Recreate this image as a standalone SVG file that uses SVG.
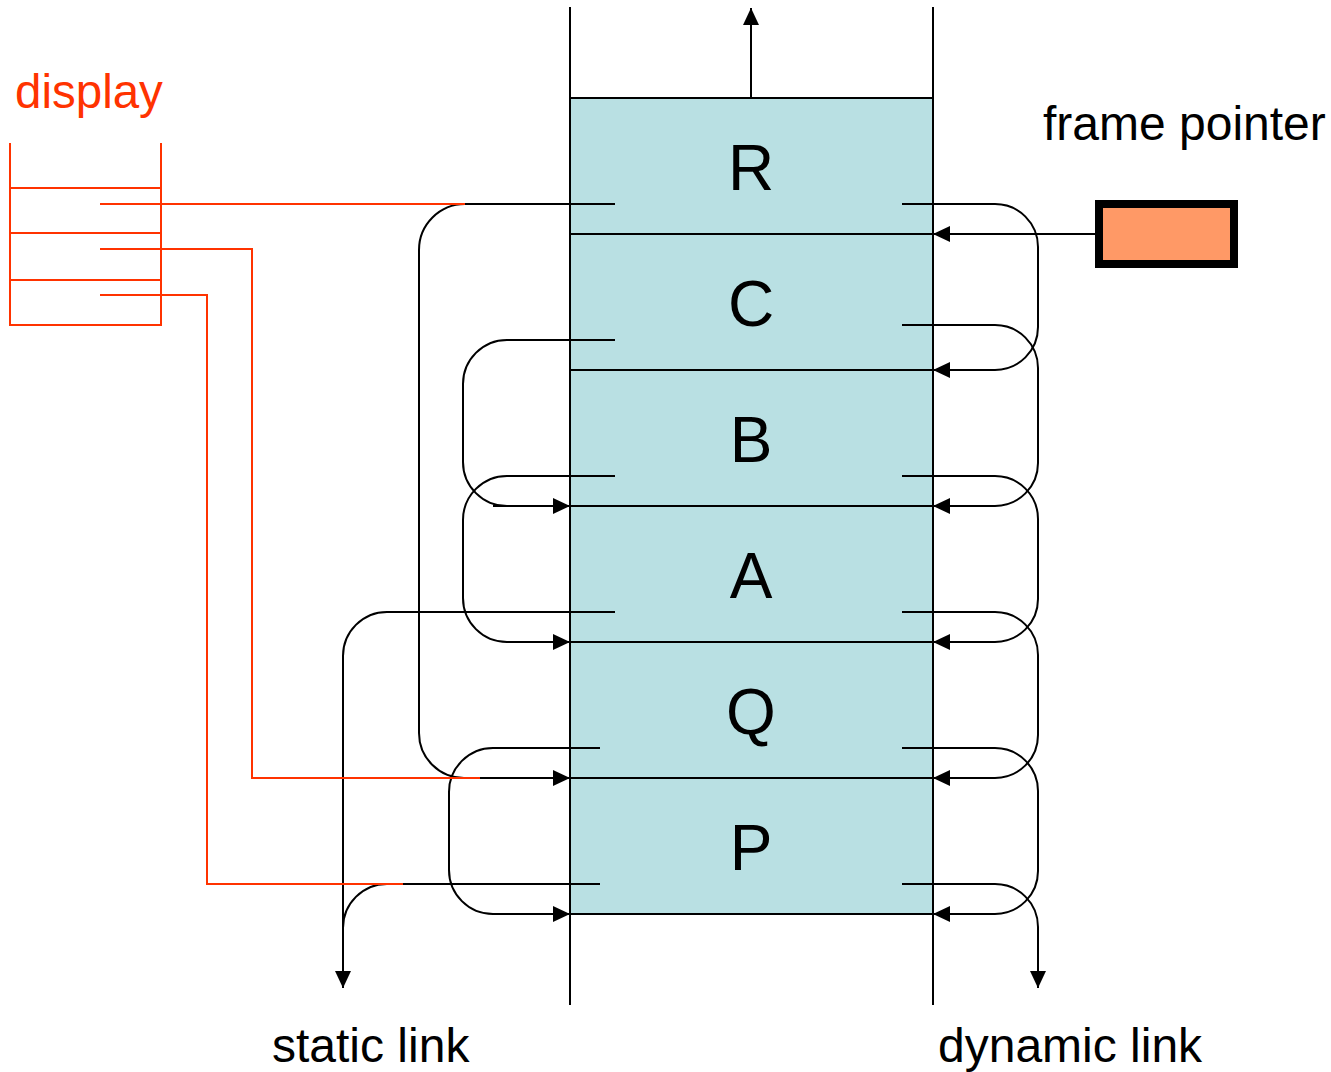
<svg xmlns="http://www.w3.org/2000/svg" width="1331" height="1072" viewBox="0 0 1331 1072">
  <style>
    .ln { fill: none; stroke: #000; stroke-width: 2; }
    .red { fill: none; stroke: #FF3300; stroke-width: 2; }
    .frame { fill: #B9E0E3; stroke: none; }
    .sep { stroke: #000; stroke-width: 2; }
    .letter { font-family: "Liberation Sans", Arial, sans-serif; font-size: 64px; fill: #000; text-anchor: middle; }
    .label { font-family: "Liberation Sans", Arial, sans-serif; font-size: 48px; fill: #000; }
    .dlabel { font-family: "Liberation Sans", Arial, sans-serif; font-size: 47.5px; fill: #FF3300; }
  </style>
  <defs>
    <marker id="arrow" markerUnits="userSpaceOnUse" markerWidth="18" markerHeight="16" viewBox="0 0 18 16" refX="17" refY="8" orient="auto">
      <path d="M0,0 L17,8 L0,16 Z" fill="#000"/>
    </marker>
  </defs>

  <rect width="1331" height="1072" fill="#fff"/>

  <!-- activation record frames -->
  <g id="frame-R"><rect class="frame" x="570" y="98" width="363" height="136"/><text class="letter" x="751" y="190">R</text></g>
  <g id="frame-C"><rect class="frame" x="570" y="234" width="363" height="136"/><text class="letter" x="751" y="326">C</text></g>
  <g id="frame-B"><rect class="frame" x="570" y="370" width="363" height="136"/><text class="letter" x="751" y="462">B</text></g>
  <g id="frame-A"><rect class="frame" x="570" y="506" width="363" height="136"/><text class="letter" x="751" y="598">A</text></g>
  <g id="frame-Q"><rect class="frame" x="570" y="642" width="363" height="136"/><text class="letter" x="751" y="734">Q</text></g>
  <g id="frame-P"><rect class="frame" x="570" y="778" width="363" height="136"/><text class="letter" x="751" y="870">P</text></g>

  <!-- stack walls and frame boundaries -->
  <g id="stack">
    <line class="sep" x1="570" y1="7" x2="570" y2="1005"/>
    <line class="sep" x1="933" y1="7" x2="933" y2="1005"/>
    <line class="sep" x1="570" y1="98" x2="933" y2="98"/>
    <line class="sep" x1="570" y1="234" x2="933" y2="234"/>
    <line class="sep" x1="570" y1="370" x2="933" y2="370"/>
    <line class="sep" x1="570" y1="506" x2="933" y2="506"/>
    <line class="sep" x1="570" y1="642" x2="933" y2="642"/>
    <line class="sep" x1="570" y1="778" x2="933" y2="778"/>
    <line class="sep" x1="570" y1="914" x2="933" y2="914"/>
  </g>

  <!-- frame pointer register -->
  <g id="frame-pointer">
    <rect x="1099" y="204" width="135" height="60" fill="#FF9966" stroke="#000" stroke-width="8"/>
    <text class="label" x="1043" y="140">frame pointer</text>
  </g>

  <!-- display table -->
  <g id="display">
    <path class="red" d="M10,143 V325 H161 V143 M10,188 H161 M10,233 H161 M10,280 H161"/>
    <text class="dlabel" x="15" y="108">display</text>
  </g>

  <g id="labels">
    <text class="label" x="272" y="1062">static link</text>
    <text class="label" x="938" y="1062">dynamic link</text>
  </g>

  <g id="connectors">
    <!-- stack growth -->
    <path class="ln" d="M751,98 V8" marker-end="url(#arrow)"/>
    <!-- frame pointer -->
    <path class="ln" d="M1095,234 H933" marker-end="url(#arrow)"/>

    <!-- static links -->
    <path class="ln" d="M615,204 H465 A46,46 0 0 0 419,250 V733 A45,45 0 0 0 464,778 H570" marker-end="url(#arrow)"/>
    <path class="ln" d="M615,340 H507 A44,44 0 0 0 463,384 V462 A44,44 0 0 0 507,506 M493,506 H570" marker-end="url(#arrow)"/>
    <path class="ln" d="M615,476 H507 A44,44 0 0 0 463,520 V598 A44,44 0 0 0 507,642 H570" marker-end="url(#arrow)"/>
    <path class="ln" d="M615,612 H387 A44,44 0 0 0 343,656 V988" marker-end="url(#arrow)"/>
    <path class="ln" d="M600,748 H493 A44,44 0 0 0 449,792 V870 A44,44 0 0 0 493,914 H570" marker-end="url(#arrow)"/>
    <path class="ln" d="M600,884 H387 A44,44 0 0 0 343,928"/>

    <!-- dynamic links -->
    <path class="ln" d="M902,204 H995 A43,43 0 0 1 1038,247 V327 A43,43 0 0 1 995,370 H933" marker-end="url(#arrow)"/>
    <path class="ln" d="M902,325 H995 A43,43 0 0 1 1038,368 V463 A43,43 0 0 1 995,506 H933" marker-end="url(#arrow)"/>
    <path class="ln" d="M902,476 H995 A43,43 0 0 1 1038,519 V599 A43,43 0 0 1 995,642 H933" marker-end="url(#arrow)"/>
    <path class="ln" d="M902,612 H995 A43,43 0 0 1 1038,655 V735 A43,43 0 0 1 995,778 H933" marker-end="url(#arrow)"/>
    <path class="ln" d="M902,748 H995 A43,43 0 0 1 1038,791 V871 A43,43 0 0 1 995,914 H933" marker-end="url(#arrow)"/>
    <path class="ln" d="M902,884 H995 A43,43 0 0 1 1038,927 V988" marker-end="url(#arrow)"/>

    <!-- display entries -->
    <path class="red" d="M100,204 H465"/>
    <path class="red" d="M100,249 H252 V778 H480"/>
    <path class="red" d="M100,295 H207 V884 H403"/>
  </g>
</svg>
